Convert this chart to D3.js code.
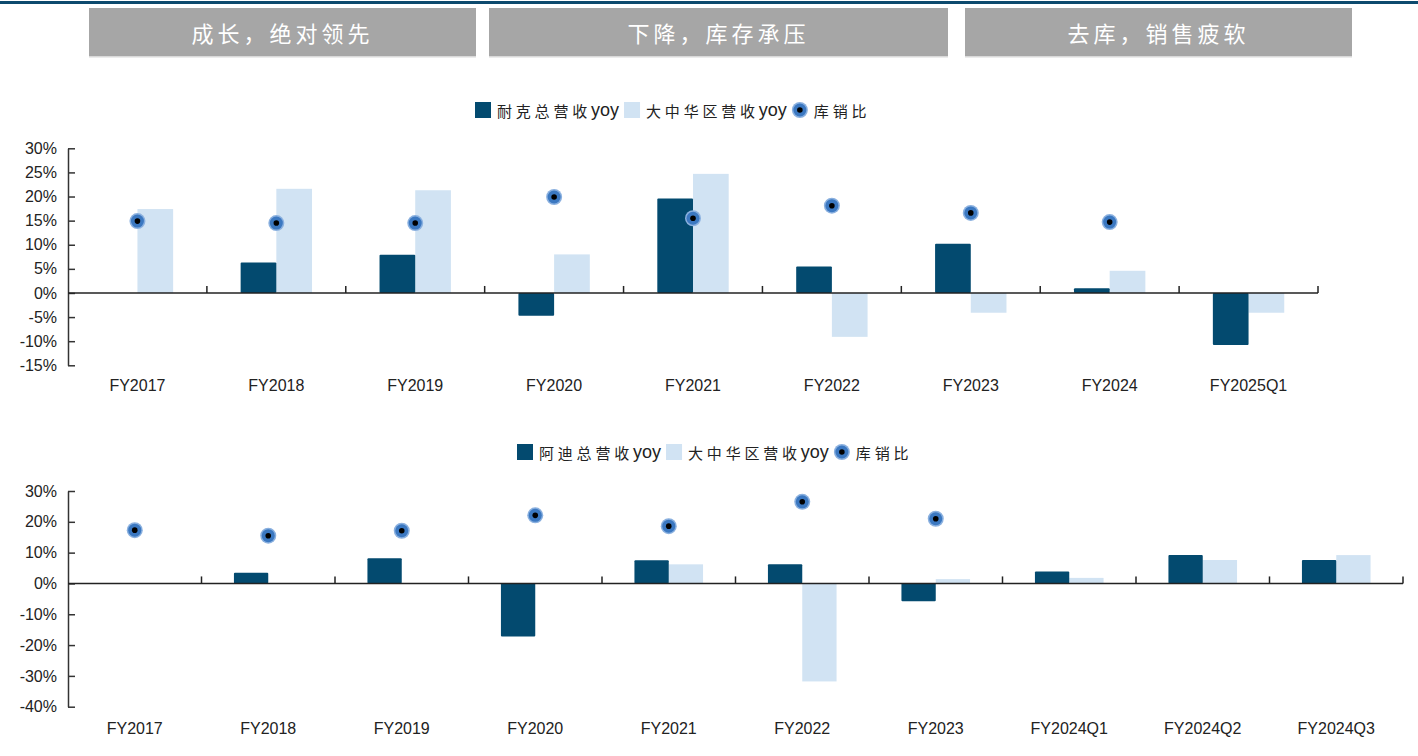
<!DOCTYPE html>
<html><head><meta charset="utf-8">
<script src="https://cdn.jsdelivr.net/npm/d3@7"></script>
<style>
body{margin:0;background:#fff;}
svg{display:block;}
</style></head>
<body>
<svg id="c" width="1418" height="756"></svg>
<script>
// ---------- DATA ----------
const bannerLabels = ["成长，绝对领先", "下降，库存承压", "去库，销售疲软"];

const nikeCategories = ["FY2017","FY2018","FY2019","FY2020","FY2021","FY2022","FY2023","FY2024","FY2025Q1"];
const nikeTotalYoy   = [null, 6.3, 7.9, -4.7, 19.6, 5.5, 10.2, 1.0, -10.8];
const nikeChinaYoy   = [17.4, 21.6, 21.3, 8.0, 24.7, -9.1, -4.1, 4.6, -4.1];
const nikeInvRatio   = [14.9, 14.5, 14.5, 19.9, 15.5, 18.1, 16.6, 14.7, null];
const nikeLegend     = ["耐克总营收", "大中华区营收", "库销比"];
const nikeTicks      = [-15, -10, -5, 0, 5, 10, 15, 20, 25, 30];

const adiCategories  = ["FY2017","FY2018","FY2019","FY2020","FY2021","FY2022","FY2023","FY2024Q1","FY2024Q2","FY2024Q3"];
const adiTotalYoy    = [null, 3.5, 8.2, -17.2, 7.5, 6.2, -5.8, 3.9, 9.2, 7.6];
const adiChinaYoy    = [null, null, null, null, 6.2, -31.8, 1.4, 1.8, 7.6, 9.2];
const adiInvRatio    = [17.3, 15.5, 17.1, 22.1, 18.6, 26.5, 21.0, null, null, null];
const adiLegend      = ["阿迪总营收", "大中华区营收", "库销比"];
const adiTicks       = [-40, -30, -20, -10, 0, 10, 20, 30];

// ---------- STYLE ----------
const DARK = "#034a6f", LIGHT = "#d1e3f3", GRAY = "#a6a6a6";
const LATIN = "Arial, 'Liberation Sans', sans-serif";
const CJK = "'Noto Sans CJK SC', sans-serif";

const svg = d3.select("#c");

// top rule
svg.append("rect").attr("x",0).attr("y",1).attr("width",1418).attr("height",3).attr("fill","#0d4a6e");

// banners
const bannerBoxes = [[89,476],[489,948],[965,1352]];
bannerLabels.forEach((t,i)=>{
  const [x0,x1] = bannerBoxes[i];
  svg.append("rect").attr("x",x0).attr("y",8).attr("width",x1-x0).attr("height",48).attr("fill",GRAY);
  svg.append("rect").attr("x",x0).attr("y",56).attr("width",x1-x0).attr("height",1.5).attr("fill","#d9d9d9");
  svg.append("text").attr("x",(x0+x1)/2).attr("y",32).attr("text-anchor","middle")
    .attr("dominant-baseline","central").attr("fill","#fff")
    .style("font-family",CJK).style("font-size","22px").style("letter-spacing","4px")
    .text(t);
});

function marker(g, cx, cy, r){
  g.append("circle").attr("cx",cx).attr("cy",cy).attr("r",r+1).attr("fill","#8ab0df");
  g.append("circle").attr("cx",cx).attr("cy",cy).attr("r",r-0.5).attr("fill","#3b78c1");
  g.append("circle").attr("cx",cx).attr("cy",cy).attr("r",2.8).attr("fill","#000");
}

function legend(g, x, y, labels){
  let cx = x;
  const item = (type, label) => {
    if(type==="dark" || type==="light"){
      g.append("rect").attr("x",cx).attr("y",y-8).attr("width",16).attr("height",16)
        .attr("fill", type==="dark"?DARK:LIGHT);
      cx += 22;
    } else {
      marker(g, cx+8, y, 7);
      cx += 22;
    }
    const t = g.append("text").attr("x",cx).attr("y",y).attr("dominant-baseline","central").attr("fill","#222");
    t.append("tspan").style("font-family",CJK).style("font-size","15px").style("letter-spacing","3.8px").text(label);
    if(type!=="marker") t.append("tspan").style("font-family",LATIN).style("font-size","18px").text("yoy");
    cx += t.node().getComputedTextLength() + 5;
  };
  item("dark", labels[0]);
  item("light", labels[1]);
  item("marker", labels[2]);
}

function chart(cfg){
  const g = svg.append("g");
  const x = d3.scaleBand().domain(cfg.cats).range([cfg.x0, cfg.x1]).paddingInner(0).paddingOuter(0);
  const y = d3.scaleLinear().domain([cfg.ticks[0], cfg.ticks[cfg.ticks.length-1]]).range([cfg.yBottom, cfg.yTop]);
  const bw = x.bandwidth()*0.257;
  const cxOf = c => x(c) + x.bandwidth()/2;

  // bars
  cfg.cats.forEach((c,i)=>{
    const v1 = cfg.total[i], v2 = cfg.china[i];
    if(v2!=null) g.append("rect").attr("x",cxOf(c)).attr("width",bw)
      .attr("y",y(Math.max(0,v2))).attr("height",Math.abs(y(v2)-y(0))).attr("fill",LIGHT);
    if(v1!=null) g.append("rect").attr("x",cxOf(c)-bw).attr("width",bw)
      .attr("y",y(Math.max(0,v1))).attr("height",Math.abs(y(v1)-y(0))).attr("fill",DARK).attr("rx",1);
  });

  // y axis
  const ya = g.append("g").attr("transform",`translate(${cfg.x0},0)`)
    .call(d3.axisLeft(y).tickValues(cfg.ticks).tickFormat(d=>d+"%").tickSizeInner(-7).tickSizeOuter(0).tickPadding(11));
  ya.select(".domain").attr("stroke","#333").attr("stroke-width",1.5);
  ya.selectAll(".tick line").attr("stroke","#333").attr("stroke-width",1.5);
  ya.selectAll("text").style("font-family",LATIN).style("font-size","16px").attr("fill","#222");

  // x axis line at zero with boundary ticks
  const xa = g.append("g").attr("transform",`translate(0,${y(0)})`);
  xa.append("line").attr("x1",cfg.x0).attr("x2",cfg.x1).attr("stroke","#222").attr("stroke-width",1.5);
  cfg.cats.forEach(c=>{
    const bx = x(c)+x.bandwidth();
    xa.append("line").attr("x1",bx).attr("x2",bx).attr("y1",0).attr("y2",-7).attr("stroke","#222").attr("stroke-width",1.5);
  });
  // category labels
  cfg.cats.forEach(c=>{
    g.append("text").attr("x",cxOf(c)).attr("y",cfg.labelY).attr("text-anchor","middle")
      .attr("dominant-baseline","central").attr("fill","#222")
      .style("font-family",LATIN).style("font-size","16px").text(c);
  });

  // markers
  cfg.cats.forEach((c,i)=>{
    const v = cfg.ratio[i];
    if(v!=null) marker(g, cxOf(c), y(v), 7);
  });

  legend(g, cfg.legendX, cfg.legendY, cfg.legend);
}

chart({cats:nikeCategories, total:nikeTotalYoy, china:nikeChinaYoy, ratio:nikeInvRatio, ticks:nikeTicks,
  legend:nikeLegend, x0:68, x1:1318, yTop:148.3, yBottom:365.3, labelY:385, legendX:475, legendY:110});
chart({cats:adiCategories, total:adiTotalYoy, china:adiChinaYoy, ratio:adiInvRatio, ticks:adiTicks,
  legend:adiLegend, x0:68, x1:1403, yTop:491, yBottom:706.7, labelY:728, legendX:517, legendY:452});
</script>
</body></html>
